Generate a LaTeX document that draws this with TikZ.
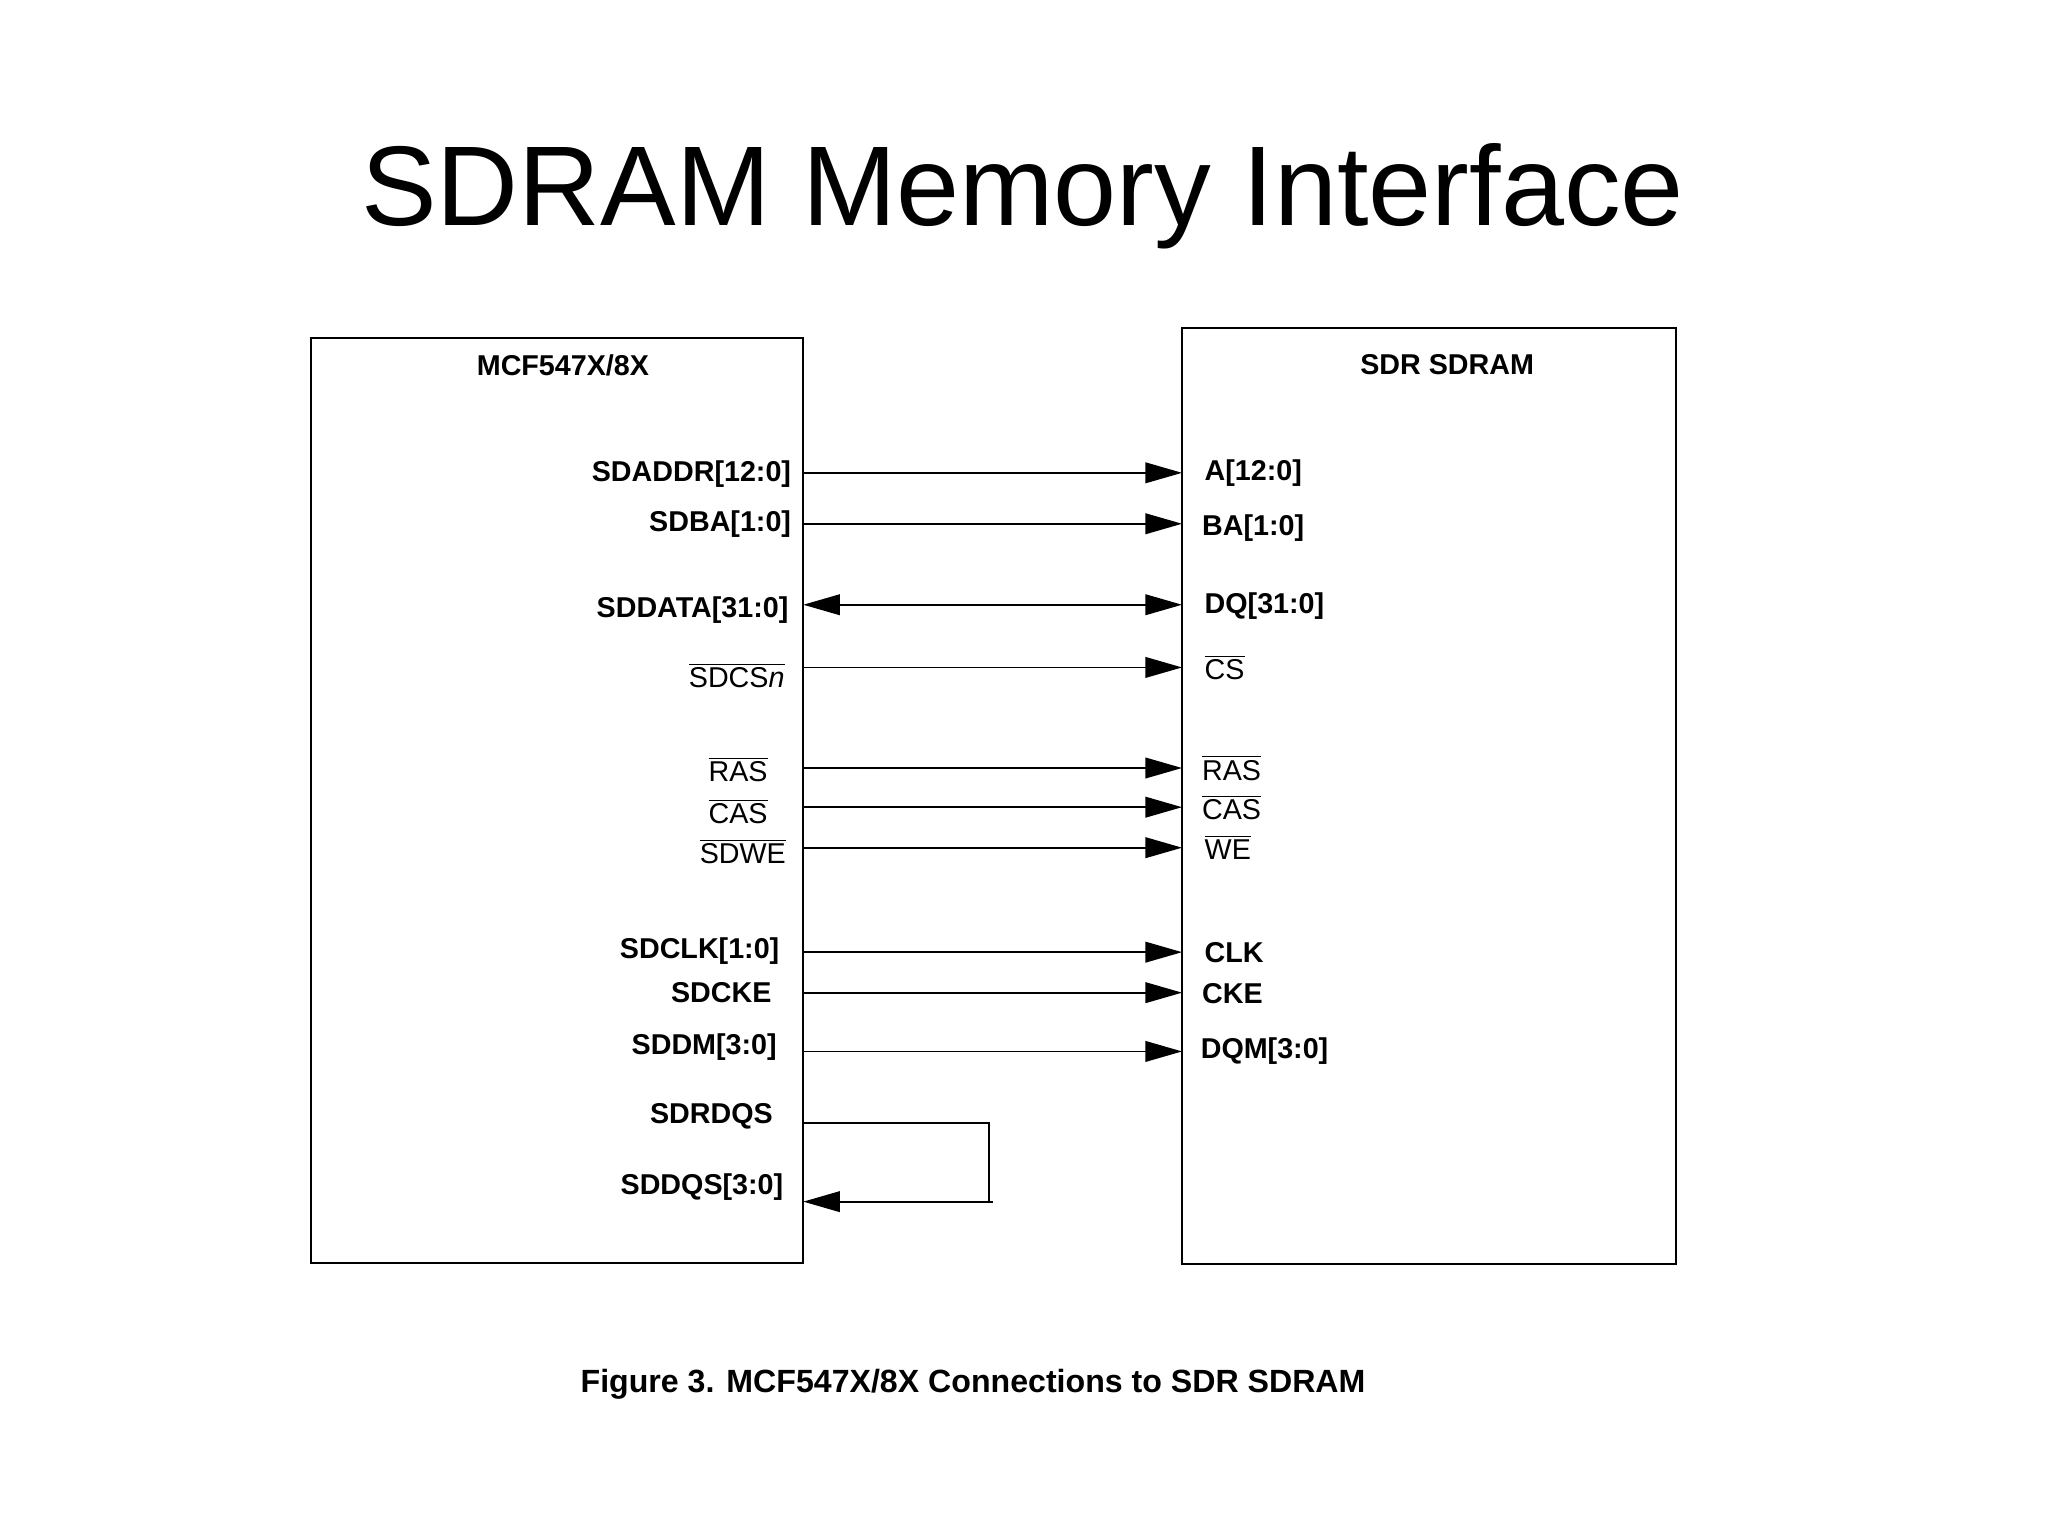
\documentclass[tikz,border=0pt]{standalone}
\usepackage{fontspec}
\setmainfont{Liberation Sans}
\usetikzlibrary{arrows.meta}
\newcommand\ovl[1]{$\overline{\hbox{#1}}$}
\begin{document}
\begin{tikzpicture}[x=0.02cm,y=-0.02cm,
  box/.style={draw,line width=0.8pt},
  sig/.style={line width=0.8pt,-{Triangle[length=16pt,width=9pt]}},
  bsig/.style={line width=0.8pt,{Triangle[length=16pt,width=9pt]}-{Triangle[length=16pt,width=9pt]}},
  ll/.style={anchor=east,font=\fontsize{12.5}{14}\selectfont\bfseries,inner sep=0},
  rl/.style={anchor=west,font=\fontsize{12.5}{14}\selectfont\bfseries,inner sep=0},
  lo/.style={anchor=east,font=\fontsize{12.5}{14}\selectfont,inner sep=0},
  ro/.style={anchor=west,font=\fontsize{12.5}{14}\selectfont,inner sep=0}]
\useasboundingbox[fill=white] (0,0) rectangle (1568,1176);
\node (title) at (783,150) {\fontsize{49.4}{58}\selectfont SDRAM Memory Interface};
\draw[box] (238,259) rectangle (615,967);
\draw[box] (905,251) rectangle (1283,968);
\node (lt) at (431,280) {\fontsize{12.5}{14}\selectfont\bfseries MCF547X/8X};
\node (rt) at (1108,279) {\fontsize{12.5}{14}\selectfont\bfseries SDR SDRAM};
\foreach \y/\s in {362/sig, 401/sig, 463/bsig, 729/sig, 760/sig, 805/sig, 511/sig, 588/sig, 618/sig, 649/sig}{
  \coordinate (a\y) at (615,\y); \coordinate (b\y) at (905,\y);
  \draw[\s] (a\y) -- (b\y);
}
\node[ll] at (606,363) {SDADDR[12:0]};
\node[rl] at (922,362) {A[12:0]};
\node[ll] at (606,401) {SDBA[1:0]};
\node[rl] at (920,404) {BA[1:0]};
\node[ll] at (604,467) {SDDATA[31:0]};
\node[rl] at (922,464) {DQ[31:0]};
\node[ll] at (597,728) {SDCLK[1:0]};
\node[rl] at (922,729) {CLK};
\node[ll] at (591,760) {SDCKE};
\node[rl] at (920,761) {CKE};
\node[ll] at (595,802) {SDDM[3:0]};
\node[rl] at (919,805) {DQM[3:0]};
\node[lo] at (601,517) {\ovl{SDCS\textit{n}}};
\node[ro] at (922,511) {\ovl{CS}};
\node[lo] at (588,589) {\ovl{RAS}};
\node[ro] at (920,588) {\ovl{RAS}};
\node[lo] at (588,621) {\ovl{CAS}};
\node[ro] at (920,618) {\ovl{CAS}};
\node[lo] at (602,652) {\ovl{SDWE}};
\node[ro] at (922,649) {\ovl{WE}};
\node[ll] at (592,855) {SDRDQS};
\node[ll] at (600,909) {SDDQS[3:0]};
\coordinate (q1) at (615,860); \coordinate (q2) at (757,860);
\coordinate (q3) at (757,920); \coordinate (q4) at (615,920);
\draw[line width=0.8pt] (q1) -- (q2) -- (q3);
\draw[sig] (760,920) -- (q4);
\node (cap) at (745,1060) {\fontsize{14}{16}\selectfont\bfseries Figure 3. MCF547X/8X Connections to SDR SDRAM};
\end{tikzpicture}
\end{document}
